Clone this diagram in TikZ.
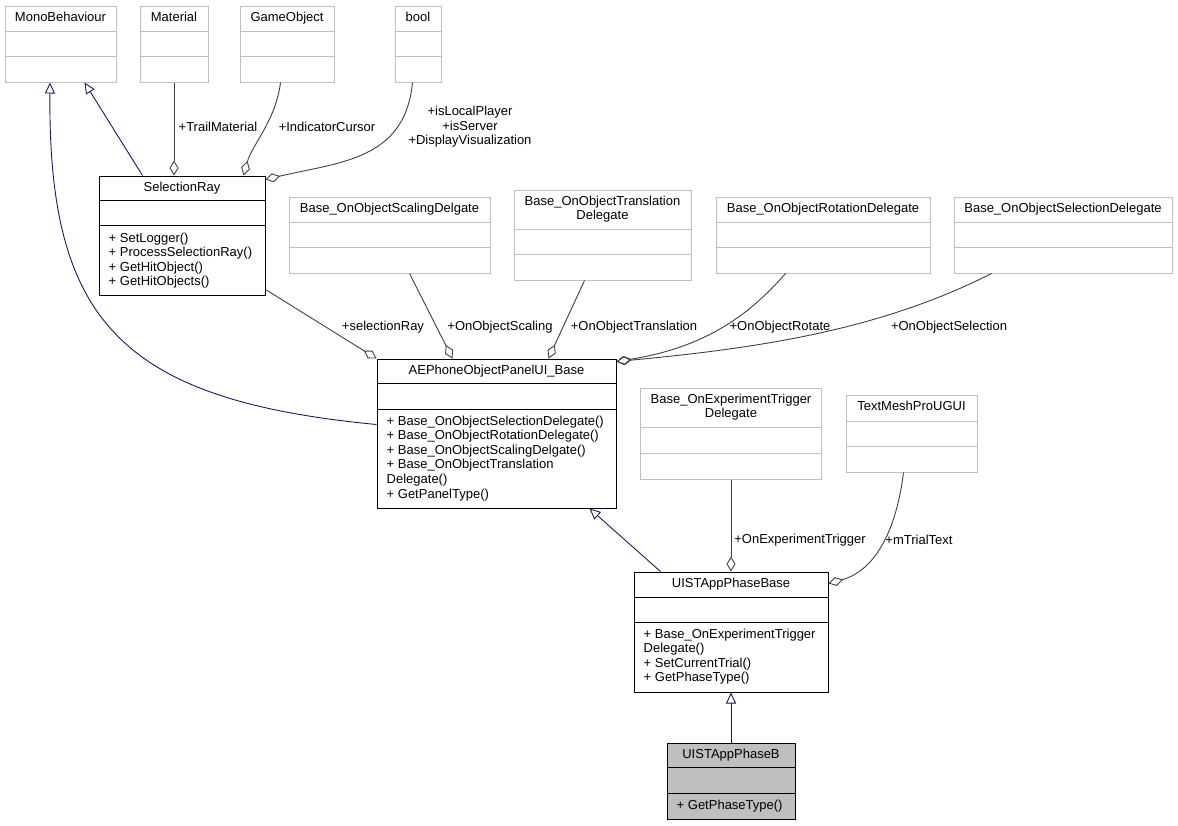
\documentclass[tikz,border=0pt]{standalone}
\usepackage{fontspec}
\setmainfont{Liberation Sans}
\usetikzlibrary{arrows.meta,positioning}

\definecolor{extgray}{HTML}{BFBFBF}
\definecolor{inhblue}{HTML}{191970}
\definecolor{agggray}{HTML}{404040}

\begin{document}
\begin{tikzpicture}[
  x=1pt, y=-1pt,
  font=\fontsize{13}{14.6}\selectfont,
  cls/.style={draw=black, line width=1pt, fill=white, inner sep=0pt},
  ext/.style={draw=extgray, line width=1pt, fill=white, inner sep=0pt},
  ttl/.style={inner sep=0pt, align=center},
  mth/.style={inner sep=0pt, align=left},
  lbl/.style={inner sep=0pt, align=center},
  inh/.style={draw=inhblue, line width=0.9pt, -{Triangle[open, length=11pt, width=10pt]}},
  agg/.style={draw=agggray, line width=0.9pt, -{Diamond[open, length=15pt, width=9pt]}}
]
\useasboundingbox (0,0) rectangle (1178,825);

% class boxes
\node[ext, minimum width=111, minimum height=76] (mono) at (60.5,44) {};
\node[ext, minimum width=68, minimum height=76] (material) at (174,44) {};
\node[ext, minimum width=94, minimum height=76] (gameobj) at (287,44) {};
\node[ext, minimum width=46, minimum height=76] (boolcls) at (418,44) {};

\node[cls, minimum width=166, minimum height=119] (selray) at (182,235.5) {};
\node[ext, minimum width=201, minimum height=76] (scaling) at (389.5,235) {};
\node[ext, minimum width=177, minimum height=90] (transl) at (602.5,235) {};
\node[ext, minimum width=214, minimum height=76] (rotation) at (823,235) {};
\node[ext, minimum width=218, minimum height=76] (selection) at (1063,235) {};

\node[cls, minimum width=239, minimum height=149] (aepanel) at (496.5,433.5) {};
\node[ext, minimum width=181, minimum height=91] (trigger) at (731,433.5) {};
\node[ext, minimum width=131, minimum height=77] (tmpro) at (911.5,433.5) {};

\node[cls, minimum width=194, minimum height=120] (phasebase) at (731,632) {};
\node[cls, fill=extgray, minimum width=128, minimum height=76] (phaseb) at (731,781) {};

% compartment lines
\foreach \n/\a/\b in {mono/26/51, material/26/51, gameobj/26/51, boolcls/26/51,
    scaling/26/51, transl/40/65, rotation/26/51, selection/26/51, trigger/40/66, tmpro/27/52}
  \draw[extgray, line width=1pt] ([yshift=-\a]\n.north west) -- ([yshift=-\a]\n.north east)
    ([yshift=-\b]\n.north west) -- ([yshift=-\b]\n.north east);
\foreach \n/\a/\b in {selray/25/50, aepanel/25/51, phasebase/26/51, phaseb/25/51}
  \draw[black, line width=1pt] ([yshift=-\a]\n.north west) -- ([yshift=-\a]\n.north east)
    ([yshift=-\b]\n.north west) -- ([yshift=-\b]\n.north east);

% titles
\node[ttl, below=6pt of mono.north] (mono-t) {MonoBehaviour};
\node[ttl, below=6pt of material.north] (material-t) {Material};
\node[ttl, below=6pt of gameobj.north] (gameobj-t) {GameObject};
\node[ttl, below=6pt of boolcls.north] (boolcls-t) {bool};
\node[ttl, below=6pt of selray.north] (selray-t) {SelectionRay};
\node[ttl, below=6pt of scaling.north] (scaling-t) {Base\_OnObjectScalingDelgate};
\node[ttl, below=6pt of transl.north] (transl-t) {Base\_OnObjectTranslation\\Delegate};
\node[ttl, below=6pt of rotation.north] (rotation-t) {Base\_OnObjectRotationDelegate};
\node[ttl, below=6pt of selection.north] (selection-t) {Base\_OnObjectSelectionDelegate};
\node[ttl, below=6pt of aepanel.north] (aepanel-t) {AEPhoneObjectPanelUI\_Base};
\node[ttl, below=6pt of trigger.north] (trigger-t) {Base\_OnExperimentTrigger\\Delegate};
\node[ttl, below=6pt of tmpro.north] (tmpro-t) {TextMeshProUGUI};
\node[ttl, below=6pt of phasebase.north] (phasebase-t) {UISTAppPhaseBase};
\node[ttl, below=6pt of phaseb.north] (phaseb-t) {UISTAppPhaseB};

% methods
\node[mth, below right=57pt and 10pt of selray.north west] (selray-m)
  {+ SetLogger()\\+ ProcessSelectionRay()\\+ GetHitObject()\\+ GetHitObjects()};
\node[mth, below right=57pt and 10pt of aepanel.north west] (aepanel-m)
  {+ Base\_OnObjectSelectionDelegate()\\+ Base\_OnObjectRotationDelegate()\\+ Base\_OnObjectScalingDelgate()\\+ Base\_OnObjectTranslation\\Delegate()\\+ GetPanelType()};
\node[mth, below right=57pt and 10pt of phasebase.north west] (phasebase-m)
  {+ Base\_OnExperimentTrigger\\Delegate()\\+ SetCurrentTrial()\\+ GetPhaseType()};
\node[mth, below right=57pt and 10pt of phaseb.north west] (phaseb-m) {+ GetPhaseType()};

% member labels
\node[lbl] (l-trail) at (218,127) {+TrailMaterial};
\node[lbl] (l-cursor) at (327,127) {+IndicatorCursor};
\node[lbl] (l-bool) at (470,127) {+isLocalPlayer\\+isServer\\+DisplayVisualization};
\node[lbl] (l-selray) at (383,327) {+selectionRay};
\node[lbl] (l-scaling) at (500,327) {+OnObjectScaling};
\node[lbl] (l-transl) at (634,327) {+OnObjectTranslation};
\node[lbl] (l-rotate) at (780,327) {+OnObjectRotate};
\node[lbl] (l-select) at (949,327) {+OnObjectSelection};
\node[lbl] (l-trigger) at (800,540) {+OnExperimentTrigger};
\node[lbl] (l-trial) at (919,540) {+mTrialText};

% inheritance
\draw[inh] ([xshift=44]selray.north west) -- ([xshift=80]mono.south west);
\draw[inh] ([yshift=-66]aepanel.north west) .. controls (120,400) and (48,320) .. ([xshift=-10.5]mono.south);
\draw[inh] ([xshift=27]phasebase.north west) -- ([xshift=213]aepanel.south west);
\draw[inh] (phaseb.north) -- (phasebase.south);

% aggregation
\draw[agg] (material.south) -- (material.south |- selray.north);
\draw[agg] ([xshift=41]gameobj.south west) .. controls (276,120) and (252,145) .. ([xshift=145]selray.north west);
\draw[agg] ([xshift=18]boolcls.south west) .. controls (405,160) and (340,162) .. ([yshift=-4]selray.north east);
\draw[agg] ([yshift=6]selray.south east) -- (aepanel.north west);
\draw[agg] ([xshift=121]scaling.south west) -- ([xshift=76]aepanel.north west);
\draw[agg] ([xshift=71]transl.south west) -- ([xshift=172]aepanel.north west);
\draw[agg] ([xshift=70]rotation.south west) .. controls (745,320) and (700,348) .. ([yshift=-3]aepanel.north east);
\draw[agg] ([xshift=38]selection.south west) .. controls (880,330) and (760,348) .. ([yshift=-3]aepanel.north east);
\draw[agg] (trigger.south) -- (phasebase.north);
\draw[agg] ([xshift=58]tmpro.south west) .. controls (895,540) and (870,572) .. ([yshift=-12]phasebase.north east);
\end{tikzpicture}
\end{document}
